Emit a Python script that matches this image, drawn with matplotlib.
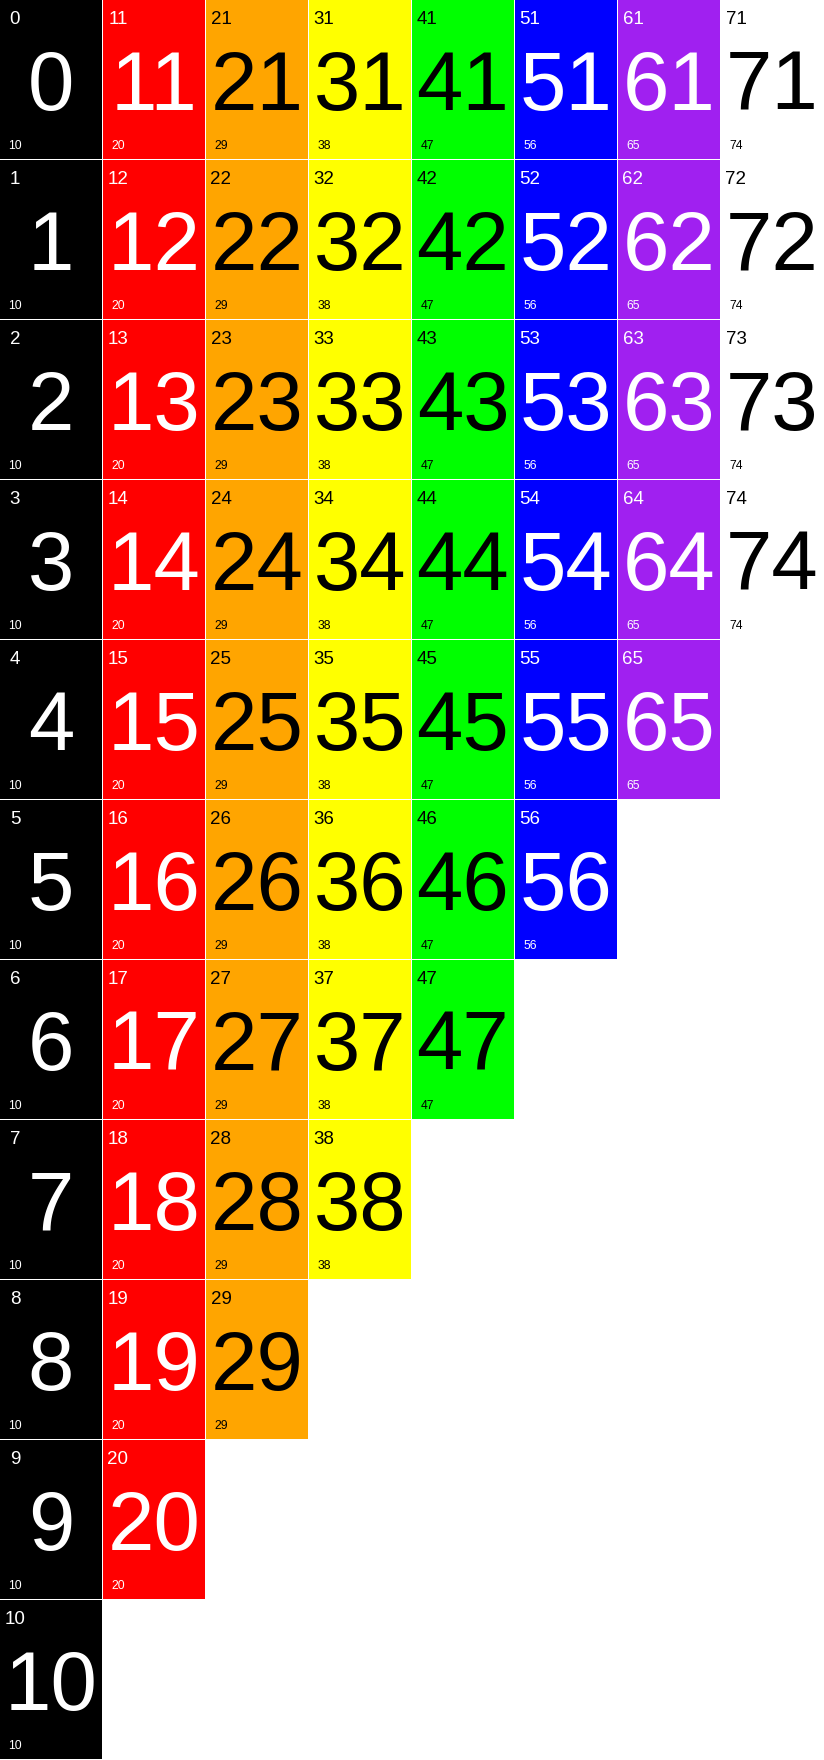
import matplotlib.pyplot as plt
from matplotlib.patches import Rectangle

plt.rcParams['font.family'] = ['Liberation Sans', 'DejaVu Sans']

# one list of numbers per column, top to bottom
columns = [
    [0, 1, 2, 3, 4, 5, 6, 7, 8, 9, 10],
    [11, 12, 13, 14, 15, 16, 17, 18, 19, 20],
    [21, 22, 23, 24, 25, 26, 27, 28, 29],
    [31, 32, 33, 34, 35, 36, 37, 38],
    [41, 42, 43, 44, 45, 46, 47],
    [51, 52, 53, 54, 55, 56],
    [61, 62, 63, 64, 65],
    [71, 72, 73, 74],
]
fill_colors = ['#000000', '#ff0000', '#ffa500', '#ffff00',
               '#00ff00', '#0000ff', '#a020f0', '#ffffff']
text_colors = ['white', 'white', 'black', 'black',
               'black', 'white', 'white', 'black']

W, H = 824, 1760
cw, ch = 103, 160

fig = plt.figure(figsize=(W / 100, H / 100), dpi=100)
ax = fig.add_axes([0, 0, 1, 1])
ax.set_xlim(0, W)
ax.set_ylim(H, 0)
ax.axis('off')

for ci, (vals, fc, tc) in enumerate(zip(columns, fill_colors, text_colors)):
    last = vals[-1]
    for ri, v in enumerate(vals):
        x0, y0 = ci * cw, ri * ch
        # 1px white gap on the right / bottom of each cell
        ax.add_patch(Rectangle((x0, y0), cw - 1, ch - 1, facecolor=fc,
                               edgecolor='none'))
        ax.text(x0 + 15, y0 + 24, str(v), color=tc, fontsize=13.5,
                ha='center', va='baseline')
        ax.text(x0 + cw / 2 - 0.5, y0 + 110, str(v), color=tc, fontsize=60,
                ha='center', va='baseline')
        ax.text(x0 + 15, y0 + 149, str(last), color=tc, fontsize=8.7,
                ha='center', va='baseline')

fig.savefig('out.png', dpi=100)
